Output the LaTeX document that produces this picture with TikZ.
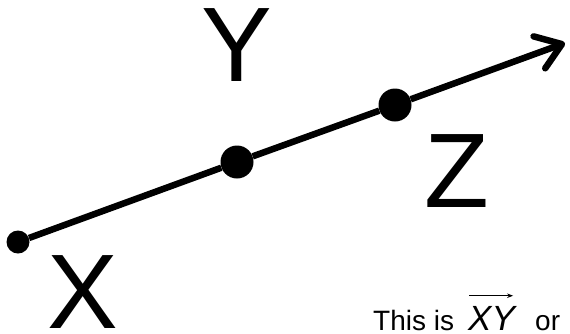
\documentclass[tikz,border=0pt]{standalone}
\usepackage{fontspec}
\setmainfont{Liberation Sans}
\usepackage{tikz}
\usetikzlibrary{arrows.meta}

\begin{document}
\begin{tikzpicture}[
		x=1pt,
		y=-1pt,
		dot/.style={circle, fill=black, inner sep=0pt, minimum size=33pt},
		smalldot/.style={dot, minimum size=23pt},
		letter/.style={inner sep=0pt, anchor=base, font=\fontsize{106}{106}\selectfont},
		caption/.style={inner sep=0pt, anchor=base west, font=\fontsize{28}{28}\selectfont},
		ray/.style={line width=6.5pt, -{Straight Barb[length=24pt, width=34pt, round]}},
		vecbar/.style={line width=1.2pt, -{Stealth[length=6pt, width=4.5pt]}}
		]
		\useasboundingbox (0,0) rectangle (570,333);
		
		% Points on the ray
		\node[smalldot] (X) at (18,242) {};
		\node[dot] (Y) at (237,162) {};
		\node[dot] (Z) at (395,105) {};
		\coordinate (tip) at (565,43);
		
		% Ray
		\draw[ray] (X) -- (Y) -- (Z) -- (tip);
		
		% Point names
		\node[letter] (lblX) at (83,328) {X};
		\node[letter] (lblY) at (237,81) {Y};
		\node[letter] (lblZ) at (457,207) {Z};
		
		% Caption
		\node[caption] (capThis) at (373,330) {This is};
		\node[caption, font=\fontsize{35}{35}\selectfont\itshape] (capXY) at (468,330) {XY};
		\node[caption] (capOr) at (535,330) {or};
		\draw[vecbar] ([xshift=1pt, yshift=10pt]capXY.north west) -- ([xshift=-2pt, yshift=10pt]capXY.north east);
		
	\end{tikzpicture}
\end{document}
